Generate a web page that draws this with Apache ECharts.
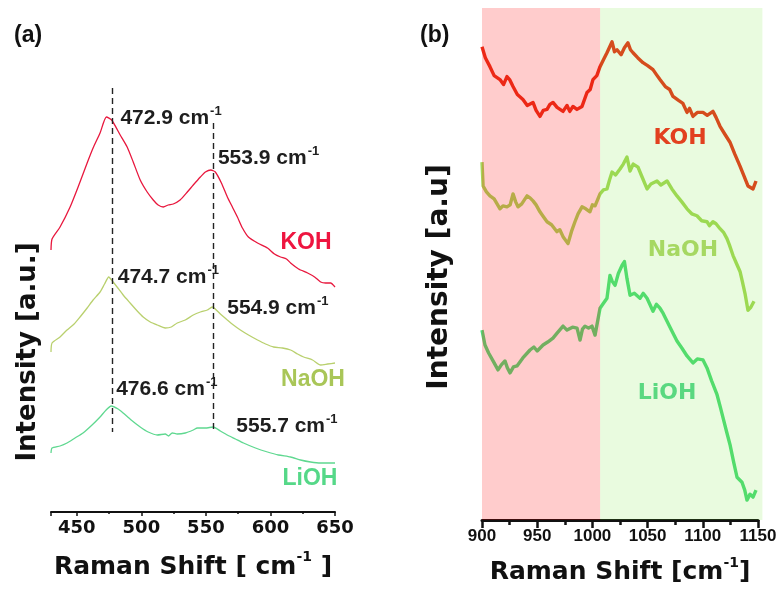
<!DOCTYPE html>
<html><head><meta charset="utf-8">
<script src="https://cdn.jsdelivr.net/npm/echarts@6/dist/echarts.min.js"></script>
<style>html,body{margin:0;padding:0;background:#fff}#c{width:782px;height:590px}</style>
</head><body><div id="c"></div>
<script>
// ---------- DATA ----------
// Panel (a): Raman shift 430-650 cm-1, intensity (a.u., offset traces)
const kohA = [[430,52.4],[430.8,54.6],[437,57],[444.8,61],[451,65],[458,69.8],[462.6,72.8],[468,75.8],[472.9,79],[477,78.4],[483.6,75.4],[489,73],[493.7,70],[499.1,66.4],[504.5,64],[509.2,62.4],[513,61.4],[517,61],[520.8,61.4],[524.7,61.6],[530,62.4],[535.6,64],[540.2,65.4],[545.7,67],[549.6,68],[553.9,68.4],[557.3,68],[562,65.8],[566.6,63],[570.5,61],[574.4,59],[578.3,56.8],[582.9,55],[590,53.8],[597.7,52.8],[603.1,51.6],[607.8,51],[612.4,50.6],[615.6,49.8],[621.8,48.6],[628.8,47.8],[634.2,47],[638.9,46],[642.7,45.8],[646.6,45.8],[650,45]];
const naohA = [[430,32],[430.8,33.8],[437,35],[442.4,36.4],[447.9,37.6],[452.5,39],[458,40.8],[462.6,42.4],[468,44],[471.5,45.6],[474.7,47],[477.5,46.2],[481.2,45],[485.9,43.4],[491.3,41.8],[496.8,40.2],[501.4,39],[506.9,38],[512.3,37.4],[518.5,36.8],[523.2,37],[527.8,37.8],[534,38.4],[540.2,39.4],[545.7,40],[551.1,40.4],[554.9,41],[561.2,39.6],[566.6,38.4],[571.3,37.4],[576.7,36.4],[583,35.4],[590,34.4],[596.2,33.6],[602.4,33],[609.3,32.8],[615.6,32.4],[621,31.6],[625.7,31],[632.6,30.4],[638.9,29.4],[644.3,29.6],[650,29.8]];
const liohA = [[430,11.8],[430.8,12.8],[437,13.2],[442.4,13.8],[448.6,14.8],[454.8,15.8],[461.8,17.4],[468,19],[472.7,20.4],[476.6,21.2],[482,20.6],[485.9,19.8],[492.1,18.4],[499.1,17],[505.3,16],[512.3,15.4],[518.5,15.6],[521,15.2],[523.9,15.8],[527.8,15.6],[534,15.8],[540.2,16.4],[543.4,16.8],[549.6,16.8],[555.7,17],[561.2,16.2],[566.6,15.4],[572.9,14.6],[579.1,13.8],[588.4,12.8],[597.7,12],[606.2,11.4],[615.6,11],[623.3,10.4],[631.1,10],[638.9,9.8],[650,9.8]];
// peak annotations (Raman shift, intensity, label)
const peaksKOH = [[472.9,79,'472.9'],[553.9,68.4,'553.9']];
const peaksNaOH = [[474.7,47,'474.7'],[554.9,41,'554.9']];
const peaksLiOH = [[476.6,21.2,'476.6'],[555.7,17,'555.7']];
// dashed guide lines: x, y from, y to
const guides = [[477.5,84.8,16],[556,77.8,15.8]];

// Panel (b): Raman shift 900-1150 cm-1
const kohB = [[900,95.2],[903,93],[907.2,91.2],[911,89.4],[916.3,88.6],[919.5,87.6],[922.6,89.2],[925,88.6],[928.1,87.2],[932,85.6],[937.1,84.6],[941,83.4],[946.2,84],[949,82.4],[952.5,81.2],[955.5,82.4],[958.9,82.6],[961.5,83.6],[964.3,84],[968,83],[973.4,82.2],[977,83.4],[979.5,82.2],[982.4,83.2],[986,82.6],[990.6,83.2],[995.1,86],[998,86.6],[1000.5,88.6],[1004,89.4],[1006.9,91.2],[1010,92.6],[1013.2,94],[1017.8,96.2],[1020,94.2],[1022.3,94.6],[1026,93.6],[1029,95],[1032.2,96],[1034.5,94.6],[1036.8,94],[1041,93],[1045.8,92],[1050,91.4],[1054.9,90.6],[1058,89.6],[1061.2,88.6],[1066,87.2],[1070,86.6],[1073,85.2],[1078,84.4],[1082,83.8],[1085.7,82],[1088,82.8],[1091.1,81.2],[1095,82],[1100.2,82],[1104,81.4],[1109.2,82.2],[1112,81],[1115.6,79.2],[1120,77.6],[1124.6,76],[1129,73.6],[1133.7,71.2],[1137,69.4],[1140.9,67.2],[1145.5,66.6],[1148.2,68.2]];
const naohB = [[900,72],[901,67.2],[904,66],[907.2,65.2],[911,64.6],[916.3,62.6],[919,63.2],[922.6,63],[925.5,63.4],[928.1,65.6],[930.5,64],[932.6,63],[936,63.6],[940.8,65.2],[943.5,64.8],[946.2,64.2],[949,63.4],[952.5,62],[955,61.2],[958.9,60],[963,59.4],[967.9,58],[970.5,58.4],[973.4,57],[977.9,55.6],[981,58],[984.2,60],[987,61.6],[990.6,63],[994,62.6],[997.8,62],[1000,63.4],[1002.4,63.2],[1006.9,65.6],[1010,66.4],[1013.2,66.6],[1015.5,68.4],[1017.8,70],[1021,69.4],[1025,70.6],[1028,71.6],[1031.3,73],[1034.1,70.2],[1037,71.6],[1041.3,71],[1045,69],[1049.5,66.6],[1053,67.6],[1058.5,68.2],[1062,67.4],[1067.6,68.2],[1072,66.6],[1076.6,65.2],[1081,64],[1085.7,62.6],[1090,61.6],[1094.7,61.2],[1099,60.2],[1103.8,60],[1106,59.2],[1109.2,60],[1112,59.6],[1115.6,58.6],[1119,57.8],[1121.9,56.6],[1124,55.4],[1127.4,53.2],[1130.5,51.6],[1133.7,50],[1136,47.8],[1138.2,45.6],[1140.9,42.2],[1143.5,42.8],[1146.4,44]];
const liohB = [[900,38.2],[902.7,35.2],[906,33.6],[910,32],[914.5,30.2],[917.5,31.2],[920.8,32],[923,30.6],[925.4,29.6],[928.5,30.8],[931.7,31],[937,32.6],[943.5,34.2],[947,34.8],[950,34],[955.3,35.2],[959.5,35.8],[964.3,36.6],[968,37.6],[973.4,39],[977,38.2],[982,38.8],[986.1,38.6],[988.8,36.2],[991,38.4],[993.3,39],[996.5,38.6],[999.6,39],[1002.4,37.2],[1006.9,42.6],[1010,43.6],[1013.2,44.6],[1015.9,49.2],[1018,48],[1020.5,47.2],[1023.5,49.6],[1026.8,51.2],[1029,52],[1031.3,48.6],[1034.1,45.2],[1038,45.6],[1043.1,44.6],[1046,45.6],[1049.5,44.6],[1052,43.4],[1054.9,42],[1058,43.4],[1061.2,42.6],[1064,41.6],[1067.6,40],[1072,38],[1076.6,36],[1081,34.6],[1085.7,33],[1088,32.4],[1091.1,31.6],[1095,32.4],[1100.2,32.2],[1103.8,30.6],[1108,28],[1112.9,25.2],[1116,22.6],[1118.3,20.6],[1121.5,17.8],[1124.6,15.2],[1128,11.6],[1131,8.6],[1135.5,7.6],[1138,6],[1140,4],[1142.8,5.2],[1145.5,4.6],[1148.2,6]];
// shaded regions of panel (b): from, to
const regionsB = [[900,1007],[1007,1154]];
const regionColors = ['rgba(255,0,0,0.2)','rgba(110,225,40,0.15)'];
const ticksA = [450,500,550,600,650];

// ---------- STYLE ----------
const FA = 'Liberation Sans, Arial, sans-serif';
const FB = 'DejaVu Sans, sans-serif';
const cA = {KOH:'#e8173d', NaOH:'#b9d06e', LiOH:'#5fd890'};
const cB = {KOH:'#e8321c', NaOH:'#a5d85a', LiOH:'#4fdb78'};
const offsets = {KOH:[[14,0],[7,-13]], NaOH:[[9,-1],[15,0]], LiOH:[[5,-18],[23,-2]]};

function peakMarks(peaks, name){
  return {
    symbol:'circle', symbolSize:1, itemStyle:{color:'rgba(0,0,0,0)'},
    data: peaks.map((p,i)=>({coord:[p[0],p[1]], value:p[2],
      label:{show:true, position:'inside', align:'left', verticalAlign:'middle', offset:offsets[name][i],
        formatter:'{a|'+p[2]+' cm}{s|-1}',
        rich:{a:{fontFamily:FA,fontWeight:'bold',fontSize:21,color:'#1e1e1e',verticalAlign:'bottom',lineHeight:24},
              s:{fontFamily:FA,fontWeight:'bold',fontSize:13,color:'#1e1e1e',verticalAlign:'top',lineHeight:24,padding:[0,0,0,1]}}}}))
  };
}

const chart = echarts.init(document.getElementById('c'), null, {renderer:'canvas'});
const option = {
  animation:false,
  grid:[
    {left:51, top:12, width:284, height:500},
    {left:482, top:8, width:276, height:515}
  ],
  xAxis:[
    {gridIndex:0, type:'value', min:430, max:650, splitNumber:4,
     axisLine:{show:true, onZero:false, lineStyle:{color:'#111', width:2}},
     axisTick:{show:true, length:4, lineStyle:{color:'#111', width:1.5}},
     minorTick:{show:true, splitNumber:2, length:2, lineStyle:{color:'#111', width:1.5}},
     splitLine:{show:false},
     axisLabel:{showMinLabel:false, formatter:v=>ticksA.indexOf(v)>=0?String(v):'', fontFamily:FB, fontWeight:'bold', fontSize:18, color:'#111', margin:7},
     name:'{a|Raman Shift [ cm}{s|-1}{a| ]}', nameLocation:'middle', nameGap:38,
     nameTextStyle:{rich:{a:{fontFamily:FB,fontWeight:'bold',fontSize:25,color:'#111',verticalAlign:'bottom',lineHeight:30},
                          s:{fontFamily:FB,fontWeight:'bold',fontSize:14,color:'#111',verticalAlign:'top',lineHeight:30}}}},
    {gridIndex:1, type:'value', min:900, max:1150, interval:50,
     axisLine:{show:true, onZero:false, lineStyle:{color:'#111', width:3}},
     axisTick:{show:true, length:8, lineStyle:{color:'#111', width:2.5}},
     minorTick:{show:true, splitNumber:2, length:5, lineStyle:{color:'#111', width:2.5}},
     splitLine:{show:false},
     axisLabel:{formatter:v=>String(v), fontFamily:FA, fontWeight:'bold', fontSize:17, color:'#111', margin:8},
     name:'{a|Raman Shift [cm}{s|-1}{a|]}', nameLocation:'middle', nameGap:36,
     nameTextStyle:{rich:{a:{fontFamily:FB,fontWeight:'bold',fontSize:25,color:'#111',verticalAlign:'bottom',lineHeight:29},
                          s:{fontFamily:FB,fontWeight:'bold',fontSize:14,color:'#111',verticalAlign:'top',lineHeight:29}}}}
  ],
  yAxis:[
    {gridIndex:0, type:'value', min:0, max:100, show:false},
    {gridIndex:1, type:'value', min:0, max:103, show:false}
  ],
  series:[
    {type:'line', name:'KOH', xAxisIndex:0, yAxisIndex:0, data:kohA, showSymbol:false, smooth:0.2,
     lineStyle:{color:cA.KOH, width:1.3}, z:2,
     markPoint:peakMarks(peaksKOH,'KOH'),
     markLine:{silent:true, symbol:['none','none'], label:{show:false},
       lineStyle:{color:'#222', width:1.4, type:[6,4]},
       data:guides.map(g=>[{coord:[g[0],g[1]]},{coord:[g[0],g[2]]}])}},
    {type:'line', name:'NaOH', xAxisIndex:0, yAxisIndex:0, data:naohA, showSymbol:false, smooth:0.2,
     lineStyle:{color:cA.NaOH, width:1.3}, z:2, markPoint:peakMarks(peaksNaOH,'NaOH')},
    {type:'line', name:'LiOH', xAxisIndex:0, yAxisIndex:0, data:liohA, showSymbol:false, smooth:0.2,
     lineStyle:{color:cA.LiOH, width:1.3}, z:2, markPoint:peakMarks(peaksLiOH,'LiOH')},
    {type:'line', name:'KOH b', xAxisIndex:1, yAxisIndex:1, data:kohB, showSymbol:false,
     lineStyle:{color:cB.KOH, width:3.4, join:'round'}, z:2},
    {type:'line', name:'NaOH b', xAxisIndex:1, yAxisIndex:1, data:naohB, showSymbol:false,
     lineStyle:{color:cB.NaOH, width:3.4, join:'round'}, z:2},
    {type:'line', name:'LiOH b', xAxisIndex:1, yAxisIndex:1, data:liohB, showSymbol:false,
     lineStyle:{color:cB.LiOH, width:3.4, join:'round'}, z:2},
    {type:'custom', xAxisIndex:1, yAxisIndex:1, z:10, silent:true, data:regionsB,
     renderItem:(params, api)=>{
       const p0 = api.coord([api.value(0), 103]);
       const p1 = api.coord([api.value(1), 0]);
       return {type:'rect', shape:{x:p0[0], y:p0[1], width:p1[0]-p0[0], height:p1[1]-p0[1]},
               style:{fill:regionColors[params.dataIndex]}};
     }}
  ],
  graphic:[
    {type:'text', left:14, top:24, style:{text:'(a)', fontFamily:FA, fontWeight:'bold', fontSize:23, fill:'#111'}},
    {type:'text', left:420, top:24, style:{text:'(b)', fontFamily:FA, fontWeight:'bold', fontSize:23, fill:'#111'}},
    {type:'text', x:28, y:352, rotation:Math.PI/2, style:{text:'Intensity [a.u.]', fontFamily:FB, fontWeight:'bold', fontSize:26, fill:'#111', textAlign:'center', textVerticalAlign:'middle'}},
    {type:'text', x:440, y:277, rotation:Math.PI/2, style:{text:'Intensity [a.u]', fontFamily:FB, fontWeight:'bold', fontSize:28, fill:'#111', textAlign:'center', textVerticalAlign:'middle'}},
    {type:'text', x:306, y:243, style:{text:'KOH', fontFamily:FA, fontWeight:'bold', fontSize:23, fill:'#ee1540', textAlign:'center', textVerticalAlign:'middle'}},
    {type:'text', x:313, y:380, style:{text:'NaOH', fontFamily:FA, fontWeight:'bold', fontSize:23, fill:'#a9c658', textAlign:'center', textVerticalAlign:'middle'}},
    {type:'text', x:310, y:479, style:{text:'LiOH', fontFamily:FA, fontWeight:'bold', fontSize:23, fill:'#55d888', textAlign:'center', textVerticalAlign:'middle'}},
    {type:'text', x:680, y:138, z:20, style:{text:'KOH', fontFamily:FB, fontWeight:'bold', fontSize:22, fill:'#e2401f', textAlign:'center', textVerticalAlign:'middle'}},
    {type:'text', x:683, y:250, z:20, style:{text:'NaOH', fontFamily:FB, fontWeight:'bold', fontSize:22, fill:'#a6d862', textAlign:'center', textVerticalAlign:'middle'}},
    {type:'text', x:667, y:393, z:20, style:{text:'LiOH', fontFamily:FB, fontWeight:'bold', fontSize:22, fill:'#5ad880', textAlign:'center', textVerticalAlign:'middle'}}
  ]
};
chart.setOption(option);
</script></body></html>
